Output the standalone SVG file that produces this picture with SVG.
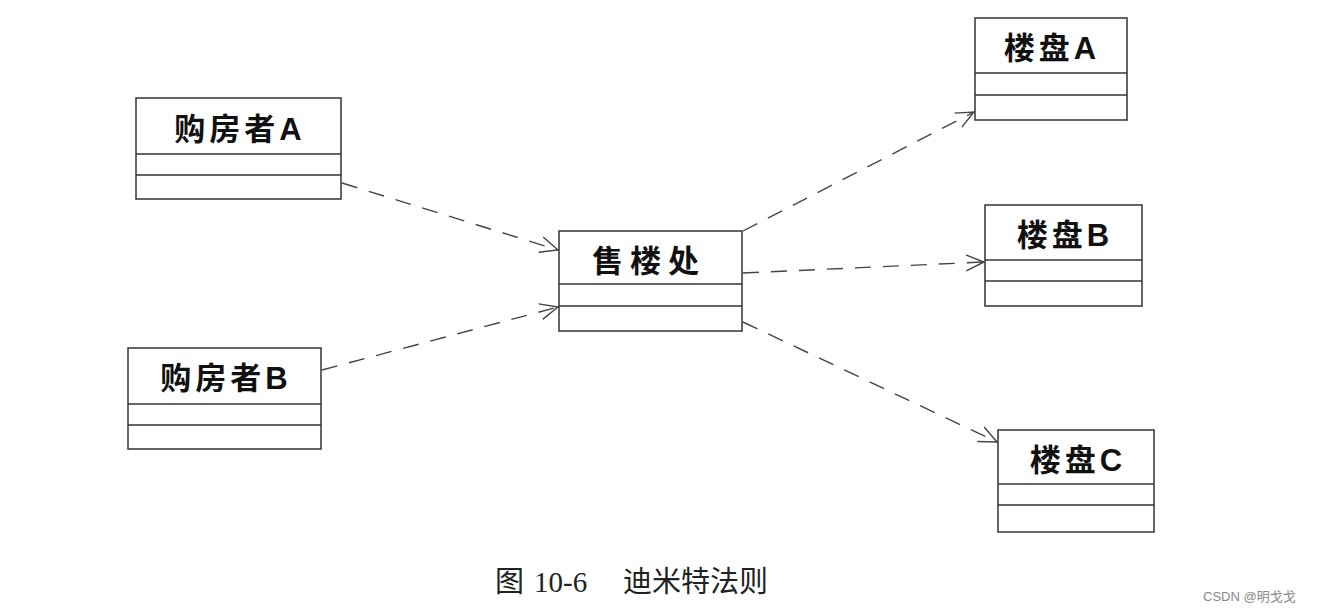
<svg xmlns="http://www.w3.org/2000/svg" width="1318" height="613" viewBox="0 0 1318 613">
<style>
.box{fill:#fff;stroke:#333;stroke-width:1.5}
.div{stroke:#333;stroke-width:1.5}
.t{font-family:"Liberation Sans","Noto Sans CJK SC",sans-serif;font-size:31px;font-weight:bold;fill:#111;text-anchor:middle;letter-spacing:4px}
.c{stroke:#444;stroke-width:1.4;stroke-dasharray:16,12;fill:none}
.cap{font-family:"Liberation Serif","Noto Sans CJK SC",serif;font-size:29px;fill:#222}
.wm{font-family:"Liberation Sans","Noto Sans CJK SC",sans-serif;font-size:13px;fill:#888}
</style>
<defs>
<marker id="arr" viewBox="0 0 20 20" refX="18" refY="10" markerWidth="20" markerHeight="20" markerUnits="userSpaceOnUse" orient="auto">
<path d="M0,2 L18,10 L0,18" fill="none" stroke="#444" stroke-width="1.4"/>
</marker>
</defs>
<rect width="1318" height="613" fill="#fff"/>
<g id="connectors">
<line class="c" x1="342" y1="183" x2="558" y2="250" marker-end="url(#arr)"/>
<line class="c" x1="322" y1="370" x2="558" y2="307" marker-end="url(#arr)"/>
<line class="c" x1="743" y1="231" x2="974" y2="112" marker-end="url(#arr)"/>
<line class="c" x1="743" y1="273" x2="984" y2="262" marker-end="url(#arr)"/>
<line class="c" x1="743" y1="322" x2="997" y2="442" marker-end="url(#arr)"/>
</g>
<g id="buyerA">
<rect class="box" x="136" y="98" width="205" height="101"/>
<line class="div" x1="136" y1="154" x2="341" y2="154"/>
<line class="div" x1="136" y1="175" x2="341" y2="175"/>
<text class="t" x="240" y="140">购房者A</text>
</g>
<g id="buyerB">
<rect class="box" x="128" y="348" width="193" height="101"/>
<line class="div" x1="128" y1="404" x2="321" y2="404"/>
<line class="div" x1="128" y1="425" x2="321" y2="425"/>
<text class="t" x="226" y="389">购房者B</text>
</g>
<g id="salesOffice">
<rect class="box" x="559" y="231" width="183" height="100"/>
<line class="div" x1="559" y1="284" x2="742" y2="284"/>
<line class="div" x1="559" y1="306" x2="742" y2="306"/>
<text class="t" x="649" y="272" style="letter-spacing:7px">售楼处</text>
</g>
<g id="buildingA">
<rect class="box" x="975" y="18" width="152" height="102"/>
<line class="div" x1="975" y1="73" x2="1127" y2="73"/>
<line class="div" x1="975" y1="95" x2="1127" y2="95"/>
<text class="t" x="1052" y="59">楼盘A</text>
</g>
<g id="buildingB">
<rect class="box" x="985" y="205" width="157" height="101"/>
<line class="div" x1="985" y1="260" x2="1142" y2="260"/>
<line class="div" x1="985" y1="281" x2="1142" y2="281"/>
<text class="t" x="1065" y="246">楼盘B</text>
</g>
<g id="buildingC">
<rect class="box" x="998" y="430" width="156" height="102"/>
<line class="div" x1="998" y1="484" x2="1154" y2="484"/>
<line class="div" x1="998" y1="505" x2="1154" y2="505"/>
<text class="t" x="1078" y="471">楼盘C</text>
</g>
<text class="cap" x="495" y="592">图</text>
<text class="cap" x="534" y="592">10-6</text>
<text class="cap" x="623" y="592">迪米特法则</text>
<text class="wm" x="1203" y="601">CSDN @明戈戈</text>
</svg>
